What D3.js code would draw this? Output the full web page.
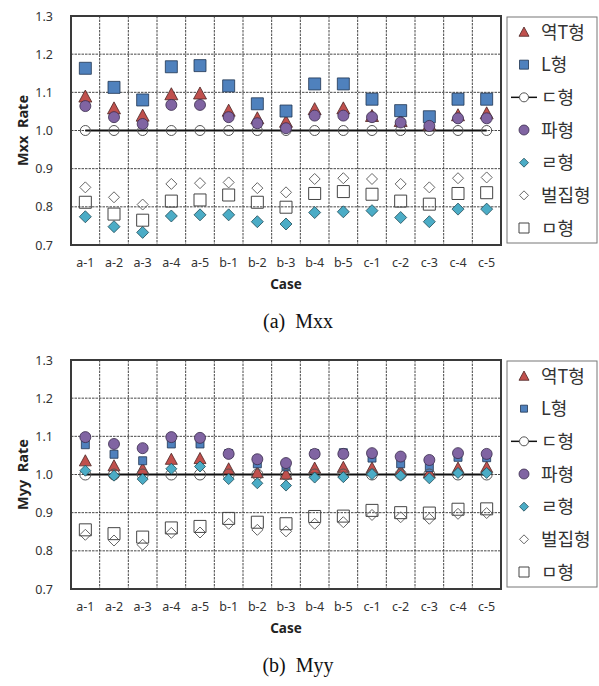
<!DOCTYPE html>
<html>
<head>
<meta charset="utf-8">
<script src="https://cdnjs.cloudflare.com/ajax/libs/d3/7.8.5/d3.min.js"></script>
<style>
  body { margin: 0; background: #fff; }
  svg { display: block; }
</style>
</head>
<body>
<svg id="chart" width="599" height="686"></svg>
<script>
// categories and legend names
const cases = ["a-1","a-2","a-3","a-4","a-5","b-1","b-2","b-3","b-4","b-5","c-1","c-2","c-3","c-4","c-5"];
const seriesNames = ["역T형", "L형", "ㄷ형", "파형", "ㄹ형", "벌집형", "ㅁ형"];
const yTicks = [0.7, 0.8, 0.9, 1.0, 1.1, 1.2, 1.3];

// (a) Mxx
const mxxInvT  = [1.089,1.058,1.039,1.095,1.097,1.052,1.032,1.023,1.056,1.058,1.038,1.025,1.015,1.040,1.045];
const mxxL     = [1.163,1.113,1.080,1.167,1.170,1.117,1.070,1.051,1.122,1.122,1.082,1.052,1.036,1.082,1.082];
const mxxC     = [1.0,1.0,1.0,1.0,1.0,1.0,1.0,1.0,1.0,1.0,1.0,1.0,1.0,1.0,1.0];
const mxxWave  = [1.064,1.035,1.017,1.067,1.067,1.035,1.019,1.006,1.039,1.039,1.035,1.021,1.012,1.032,1.032];
const mxxR     = [0.774,0.748,0.733,0.776,0.779,0.779,0.761,0.755,0.785,0.787,0.790,0.772,0.761,0.794,0.794];
const mxxHoney = [0.851,0.825,0.806,0.860,0.862,0.864,0.849,0.838,0.873,0.875,0.873,0.860,0.851,0.875,0.877];
const mxxBox   = [0.812,0.781,0.765,0.815,0.818,0.831,0.812,0.799,0.835,0.840,0.833,0.815,0.807,0.835,0.837];

// (b) Myy
const myyInvT  = [1.036,1.023,1.015,1.040,1.042,1.015,1.005,1.001,1.017,1.019,1.017,1.010,1.005,1.017,1.019];
const myyL     = [1.078,1.053,1.036,1.080,1.080,1.055,1.028,1.020,1.055,1.057,1.043,1.028,1.018,1.045,1.044];
const myyC     = [1.0,1.0,1.0,1.0,1.0,1.0,1.0,1.0,1.0,1.0,1.0,1.0,1.0,1.0,1.0];
const myyWave  = [1.098,1.080,1.069,1.098,1.096,1.054,1.040,1.030,1.054,1.054,1.056,1.047,1.038,1.056,1.054];
const myyR     = [1.010,0.997,0.988,1.015,1.021,0.988,0.977,0.971,0.992,0.993,1.001,0.997,0.990,1.004,1.004];
const myyHoney = [0.842,0.827,0.816,0.847,0.848,0.871,0.855,0.851,0.871,0.875,0.894,0.888,0.884,0.897,0.899];
const myyBox   = [0.855,0.845,0.836,0.860,0.864,0.885,0.875,0.871,0.890,0.891,0.906,0.900,0.899,0.909,0.910];

const svg = d3.select("#chart");
const fontKR = "'Noto Sans CJK KR', 'Noto Sans', sans-serif";
const fontAx = "'Noto Sans', 'DejaVu Sans', sans-serif";

// marker path by kind, s = full width
function markerPath(kind, s) {
  const h = s / 2;
  if (kind === "triangle") return `M0,${-h}L${h},${h * 0.85}L${-h},${h * 0.85}Z`;
  if (kind === "square") return `M${-h},${-h}H${h}V${h}H${-h}Z`;
  if (kind === "diamond") return `M0,${-h}L${h},0L0,${h}L${-h},0Z`;
  return `M${h},0A${h},${h} 0 1,1 ${-h},0A${h},${h} 0 1,1 ${h},0Z`;
}

function drawChart(top, title, axisTitle, data, sizes, legendSizes) {
  const x0 = 71, x1 = 501;
  const y0 = top, y1 = top + 229;

  const x = d3.scaleBand().domain(cases).range([x0, x1]);
  const y = d3.scaleLinear().domain([0.7, 1.3]).range([y1, y0]);

  const styles = [
    { kind: "triangle", fill: "#c0504d", stroke: "#4a2423" },
    { kind: "square", fill: "#4f81bd", stroke: "#1f3550" },
    { kind: "circle", fill: "none", stroke: "#555" },
    { kind: "circle", fill: "#8064a2", stroke: "#3a2c4d" },
    { kind: "diamond", fill: "#4bacc6", stroke: "#214b57" },
    { kind: "diamond", fill: "none", stroke: "#666" },
    { kind: "square", fill: "none", stroke: "#444" }
  ];

  const g = svg.append("g");

  // grid
  g.append("g").selectAll("line.h")
    .data(yTicks.slice(1, -1))
    .join("line")
    .attr("x1", x0).attr("x2", x1)
    .attr("y1", d => y(d)).attr("y2", d => y(d))
    .attr("stroke", "#333").attr("stroke-width", 0.9)
    .attr("stroke-dasharray", "2.5,1");
  g.append("g").selectAll("line.v")
    .data(cases.slice(1))
    .join("line")
    .attr("x1", d => x(d)).attr("x2", d => x(d))
    .attr("y1", y0).attr("y2", y1)
    .attr("stroke", "#333").attr("stroke-width", 0.9)
    .attr("stroke-dasharray", "2.5,1");

  // plot border
  g.append("rect")
    .attr("x", x0).attr("y", y0)
    .attr("width", x1 - x0).attr("height", y1 - y0)
    .attr("fill", "none").attr("stroke", "#3a3a3a").attr("stroke-width", 2);

  // y tick labels
  g.append("g").selectAll("text")
    .data(yTicks)
    .join("text")
    .attr("x", 53).attr("y", d => y(d) + 4.5)
    .attr("text-anchor", "end")
    .attr("font-family", fontAx).attr("font-size", 12.5).attr("fill", "#333")
    .text(d => d.toFixed(1));

  // x tick labels
  g.append("g").selectAll("text")
    .data(cases)
    .join("text")
    .attr("x", d => x(d) + x.bandwidth() / 2).attr("y", y1 + 22)
    .attr("text-anchor", "middle")
    .attr("font-family", fontAx).attr("font-size", 12.5).attr("fill", "#333")
    .text(d => d);

  g.append("text")
    .attr("x", 286).attr("y", y1 + 44)
    .attr("text-anchor", "middle")
    .attr("font-family", fontAx).attr("font-size", 13.5).attr("font-weight", "bold").attr("fill", "#222")
    .text("Case");

  g.append("text")
    .attr("transform", `translate(28,${(y0 + y1) / 2}) rotate(-90)`)
    .attr("text-anchor", "middle")
    .attr("font-family", fontAx).attr("font-size", 14.5).attr("font-weight", "bold").attr("fill", "#222")
    .attr("xml:space", "preserve")
    .text(axisTitle);

  // ㄷ형 line
  const line = d3.line().x((d, i) => x(cases[i]) + x.bandwidth() / 2).y(d => y(d));
  g.append("path")
    .attr("d", line(data[2]))
    .attr("fill", "none").attr("stroke", "#111").attr("stroke-width", 2);

  // markers, series in order
  data.forEach((vals, si) => {
    const st = styles[si];
    g.append("g").selectAll("path")
      .data(vals)
      .join("path")
      .attr("transform", (d, i) => `translate(${x(cases[i]) + x.bandwidth() / 2},${y(d)})`)
      .attr("d", markerPath(st.kind, sizes[si]))
      .attr("fill", st.fill).attr("stroke", st.stroke)
      .attr("stroke-width", st.fill === "none" ? 1 : 0.8);
  });

  // legend
  const lg = g.append("g");
  lg.append("rect")
    .attr("x", 507).attr("y", y0 + 1)
    .attr("width", 90).attr("height", 226)
    .attr("fill", "#fff").attr("stroke", "#777").attr("stroke-width", 1);
  const ly = d3.scalePoint().domain(seriesNames).range([y0 + 16, y0 + 212]);
  seriesNames.forEach((name, si) => {
    const st = styles[si];
    const yy = ly(name);
    if (si === 2) {
      lg.append("line")
        .attr("x1", 511).attr("x2", 537).attr("y1", yy).attr("y2", yy)
        .attr("stroke", "#111").attr("stroke-width", 1.5);
    }
    lg.append("path")
      .attr("transform", `translate(524,${yy})`)
      .attr("d", markerPath(st.kind, legendSizes[si]))
      .attr("fill", st.fill === "none" && si === 2 ? "#fff" : st.fill)
      .attr("stroke", st.stroke)
      .attr("stroke-width", st.fill === "none" ? 1 : 0.8);
    lg.append("text")
      .attr("x", 541).attr("y", yy + 6.5)
      .attr("font-family", fontKR).attr("font-size", 18).attr("fill", "#333")
      .text(name);
  });

  // caption
  svg.append("text")
    .attr("x", 298).attr("y", y1 + 83)
    .attr("text-anchor", "middle")
    .attr("font-family", "'Liberation Serif', 'DejaVu Serif', serif")
    .attr("font-size", 20).attr("fill", "#111")
    .attr("xml:space", "preserve")
    .text(title);
}

drawChart(16, "(a)  Mxx", "Mxx  Rate",
  [mxxInvT, mxxL, mxxC, mxxWave, mxxR, mxxHoney, mxxBox],
  [13, 12, 10, 11, 12, 11, 12],
  [10, 9, 9, 10, 9, 9, 10]);

drawChart(360, "(b)  Myy", "Myy  Rate",
  [myyInvT, myyL, myyC, myyWave, myyR, myyHoney, myyBox],
  [12, 8, 11, 11, 11, 11, 12],
  [10, 7, 9, 10, 9, 9, 10]);
</script>
</body>
</html>
